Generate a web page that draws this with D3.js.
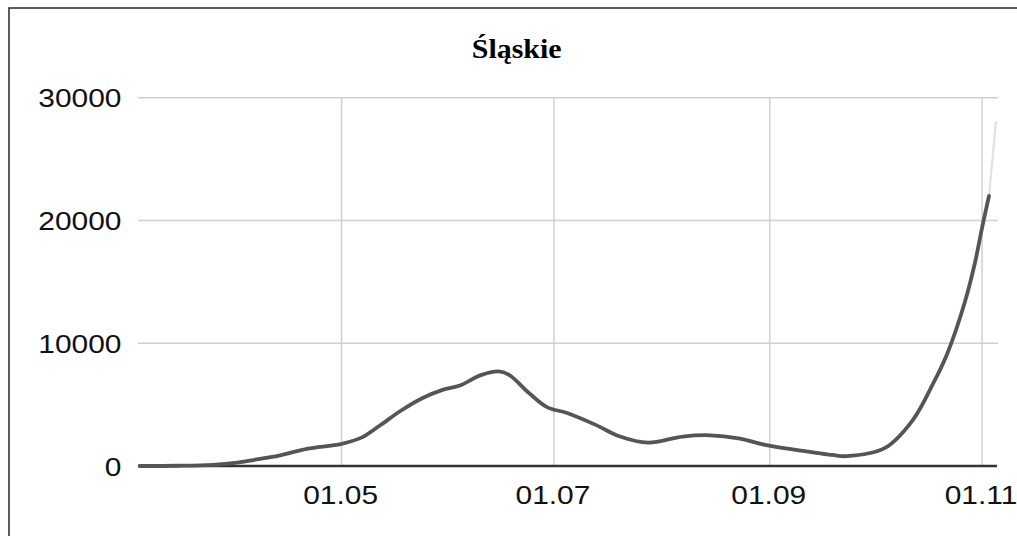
<!DOCTYPE html>
<html>
<head>
<meta charset="utf-8">
<script src="https://cdn.jsdelivr.net/npm/d3@7"></script>
<style>
  html, body { margin: 0; padding: 0; background: #fff; overflow: hidden; }
  svg { display: block; }
</style>
</head>
<body>
<svg id="chart" width="1017" height="536"></svg>
<script>
// ---- data ----
const title = "Śląskie";
const dates = [
  "2020-03-04","2020-03-15","2020-03-25","2020-04-01","2020-04-07","2020-04-13",
  "2020-04-21","2020-05-01","2020-05-07","2020-05-12","2020-05-18","2020-05-24",
  "2020-05-30","2020-06-04","2020-06-10","2020-06-15","2020-06-18","2020-06-24",
  "2020-06-29","2020-07-05","2020-07-13","2020-07-20","2020-07-28","2020-08-07",
  "2020-08-15","2020-08-23","2020-08-31","2020-09-09","2020-09-19","2020-09-23",
  "2020-10-04","2020-10-12","2020-10-18","2020-10-22","2020-10-27","2020-10-30",
  "2020-11-01","2020-11-03"
];
const values = [
  0, 20, 100, 280, 550, 850,
  1400, 1800, 2350, 3300, 4500, 5500,
  6200, 6550, 7400, 7700, 7450, 5900,
  4800, 4300, 3350, 2400, 1900, 2400,
  2500, 2250, 1700, 1300, 900, 800,
  1450, 3700, 6750, 9150, 13300, 16600,
  19400, 22000
];
const tailDates = ["2020-11-03", "2020-11-05"];
const tailValues = [22000, 28100];
const yTicks = [0, 10000, 20000, 30000];
const xTickDates = ["2020-05-01", "2020-07-01", "2020-09-01", "2020-11-01"];
const xTickLabels = ["01.05", "01.07", "01.09", "01.11"];

// ---- setup ----
const svg = d3.select("#chart");
const parse = d3.utcParse("%Y-%m-%d");
const pLeft = 138, pRight = 998, pTop = 97.7, pBottom = 466;
const stretch = 1.13;

const x = d3.scaleUtc()
  .domain([new Date(Date.UTC(2020, 2, 3, 12)), new Date(Date.UTC(2020, 10, 5, 14))])
  .range([pLeft, pRight]);
const y = d3.scaleLinear().domain([0, 30000]).range([pBottom, pTop]);

// frame (right/bottom edges fall outside the picture)
svg.append("rect")
  .attr("x", 9).attr("y", 8).attr("width", 1100).attr("height", 600)
  .attr("fill", "none").attr("stroke", "#333").attr("stroke-width", 1.6);

// horizontal gridlines
svg.append("g").selectAll("line").data(yTicks.filter(d => d > 0)).join("line")
  .attr("x1", pLeft).attr("x2", pRight)
  .attr("y1", d => y(d)).attr("y2", d => y(d))
  .attr("stroke", "#d0d0d0").attr("stroke-width", 1.5);

// vertical gridlines
svg.append("g").selectAll("line").data(xTickDates).join("line")
  .attr("x1", d => x(parse(d))).attr("x2", d => x(parse(d)))
  .attr("y1", pTop).attr("y2", pBottom)
  .attr("stroke", "#d0d0d0").attr("stroke-width", 1.5);

// baseline
svg.append("line")
  .attr("x1", pLeft).attr("x2", pRight - 1)
  .attr("y1", y(0)).attr("y2", y(0))
  .attr("stroke", "#333").attr("stroke-width", 2.6);

// line
const line = d3.line()
  .x(d => x(d[0])).y(d => y(Math.max(0, d[1])))
  .curve(d3.curveCatmullRom.alpha(0.5));

svg.append("path")
  .datum(tailDates.map((d, i) => [parse(d), tailValues[i]]))
  .attr("d", line)
  .attr("fill", "none").attr("stroke", "#e2e2e2").attr("stroke-width", 2.2);

svg.append("path")
  .datum(dates.map((d, i) => [parse(d), values[i]]))
  .attr("d", line)
  .attr("fill", "none").attr("stroke", "#555").attr("stroke-width", 3.8)
  .attr("stroke-linejoin", "round").attr("stroke-linecap", "round");

// y labels
svg.append("g").selectAll("text").data(yTicks).join("text")
  .attr("transform", d => `translate(121.5,${y(d) + 9.5}) scale(${stretch},1)`)
  .attr("text-anchor", "end")
  .attr("font-family", "Liberation Sans, Arial, sans-serif")
  .attr("font-size", 26.5).attr("fill", "#111")
  .text(d => d);

// x labels
svg.append("g").selectAll("text").data(xTickDates).join("text")
  .attr("transform", (d, i) => `translate(${x(parse(d)) - 1},504) scale(${stretch},1)`)
  .attr("text-anchor", "middle")
  .attr("font-family", "Liberation Sans, Arial, sans-serif")
  .attr("font-size", 26.5).attr("fill", "#111")
  .text((d, i) => xTickLabels[i]);

// title
svg.append("text")
  .attr("transform", `translate(516.7,58.3) scale(${stretch},1)`)
  .attr("text-anchor", "middle")
  .attr("font-family", "Liberation Serif, Times New Roman, serif")
  .attr("font-weight", "bold")
  .attr("font-size", 26.5).attr("fill", "#000")
  .text(title);
</script>
</body>
</html>
